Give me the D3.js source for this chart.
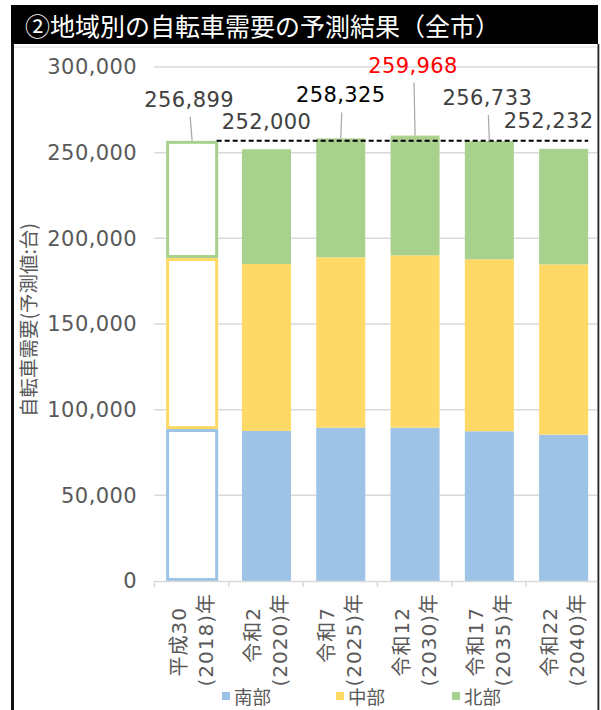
<!DOCTYPE html>
<html lang="ja">
<head>
<meta charset="utf-8">
<script src="https://cdn.jsdelivr.net/npm/d3@7/dist/d3.min.js"></script>
<style>
  html, body { margin: 0; padding: 0; background: #fff; }
  svg { display: block; }
  .num { font-family: "DejaVu Sans", "Noto Sans CJK JP", sans-serif; }
  .jp { font-family: "Noto Sans CJK JP", "DejaVu Sans", sans-serif; }
</style>
</head>
<body>
<svg id="chart" width="601" height="710"></svg>
<script>
// 地域別の自転車需要（全市）の予測値
const eraLabels = ["平成30", "令和2", "令和7", "令和12", "令和17", "令和22"];
const yearLabels = ["(2018)年", "(2020)年", "(2025)年", "(2030)年", "(2035)年", "(2040)年"];
const regionNames = ["南部", "中部", "北部"];
const south   = [88700, 87600, 89500, 89500, 87400, 85400];
const central = [99800, 97400, 99400, 100600, 100400, 99400];
const north   = [68399, 67000, 69425, 69868, 68933, 67432];
const totals  = [256899, 252000, 258325, 259968, 256733, 252232];
const yTicks  = [0, 50000, 100000, 150000, 200000, 250000, 300000];

const colors = ["#9dc3e6", "#ffd966", "#a9d18e"];
// 合計ラベルの配置（棒の上端中央からのずれ）と引き出し線の有無
const labelPlace = [
  { dx: -3, dy: -34, leader: true },
  { dx: 0, dy: -20, leader: false },
  { dx: 0, dy: -36, leader: true },
  { dx: -2, dy: -63, leader: true },
  { dx: -2, dy: -36, leader: true },
  { dx: -15, dy: -21, leader: false }
];
const labelColors = ["#404040", "#404040", "#000000", "#ff0000", "#404040", "#404040"];

const svg = d3.select("#chart");

// 枠とタイトル帯
svg.append("rect").attr("x", 11).attr("y", 5).attr("width", 587).attr("height", 39).attr("fill", "#000");
svg.append("text").attr("class", "jp")
  .attr("x", 25).attr("y", 25).attr("dominant-baseline", "central")
  .attr("fill", "#fff").attr("font-size", 25)
  .text("②地域別の自転車需要の予測結果（全市）");
svg.append("line").attr("x1", 14).attr("x2", 597).attr("y1", 47).attr("y2", 47)
  .attr("stroke", "#d9d9d9").attr("stroke-width", 1);
svg.append("rect").attr("x", 11).attr("y", 44).attr("width", 3).attr("height", 666).attr("fill", "#111");
svg.append("rect").attr("x", 597.5).attr("y", 44).attr("width", 1.8).attr("height", 666).attr("fill", "#222");

const x = d3.scaleBand()
  .domain(eraLabels)
  .range([155, 600.8])
  .paddingInner(0.34)
  .paddingOuter(0.17);
const step = x.step();

const y = d3.scaleLinear().domain([0, 300000]).range([581, 67]);

const plot = svg.append("g");
plot.append("clipPath").attr("id", "clip")
  .append("rect").attr("x", 14).attr("y", 44).attr("width", 583).attr("height", 666);

// 目盛線
const grid = plot.append("g").attr("clip-path", "url(#clip)");
grid.selectAll("line.grid").data(yTicks.filter(d => d > 0)).join("line")
  .attr("class", "grid")
  .attr("x1", 154).attr("x2", 600)
  .attr("y1", d => y(d)).attr("y2", d => y(d))
  .attr("stroke", "#d9d9d9").attr("stroke-width", 1.5);

// 縦軸ラベル
const yAxis = d3.axisLeft(y).tickValues(yTicks).tickSize(0).tickPadding(0)
  .tickFormat(d3.format(","));
const yg = svg.append("g").attr("transform", "translate(137,0)").call(yAxis);
yg.select(".domain").remove();
yg.selectAll("text").attr("class", "num")
  .attr("font-size", 21).attr("fill", "#595959")
  .attr("letter-spacing", 0.4)
  .attr("font-family", "DejaVu Sans");

// 積み上げデータ
const rows = eraLabels.map((c, i) => ({ cat: c, s0: south[i], s1: central[i], s2: north[i] }));
const stack = d3.stack().keys(["s0", "s1", "s2"])(rows);

const barG = plot.append("g");
stack.forEach((layer, k) => {
  barG.selectAll(null).data(layer).join("rect")
    .each(function (d, i) {
      const sel = d3.select(this);
      const bx = x(d.data.cat), bw = x.bandwidth();
      if (i === 0) {
        // 基準年は枠線のみ
        sel.attr("x", bx).attr("width", bw)
          .attr("y", y(d[1]) + 1.5).attr("height", y(d[0]) - y(d[1]) - 3)
          .attr("fill", "#fff").attr("stroke", colors[k]).attr("stroke-width", 3);
      } else {
        sel.attr("x", bx).attr("width", bw)
          .attr("y", y(d[1])).attr("height", y(d[0]) - y(d[1]))
          .attr("fill", colors[k]);
      }
    });
});

// 横軸
const axisG = plot.append("g").attr("clip-path", "url(#clip)");
axisG.append("line").attr("x1", 154).attr("x2", 600).attr("y1", 581.5).attr("y2", 581.5)
  .attr("stroke", "#d9d9d9").attr("stroke-width", 1.5);
axisG.selectAll("line.tick").data(d3.range(eraLabels.length + 1)).join("line")
  .attr("class", "tick")
  .attr("x1", i => 155 + i * step - 0.5).attr("x2", i => 155 + i * step - 0.5)
  .attr("y1", 581).attr("y2", 587)
  .attr("stroke", "#d9d9d9").attr("stroke-width", 1.5);

const xl = svg.append("g");
eraLabels.forEach((c, i) => {
  const cx = x(c) + x.bandwidth() / 2;
  xl.append("text").attr("class", "num")
    .attr("transform", `translate(${cx - 13.5},607) rotate(-90)`)
    .attr("text-anchor", "end").attr("dominant-baseline", "central")
    .attr("font-size", 20).attr("letter-spacing", 1).attr("fill", "#595959")
    .text(c);
  xl.append("text").attr("class", "num")
    .attr("transform", `translate(${cx + 13.5},593) rotate(-90)`)
    .attr("text-anchor", "end").attr("dominant-baseline", "central")
    .attr("font-size", 20).attr("letter-spacing", 1).attr("fill", "#595959")
    .text(yearLabels[i]);
});

// 基準年の水準を示す破線
const x0 = x(eraLabels[0]) + x.bandwidth();
const x1 = x(eraLabels[eraLabels.length - 1]) + x.bandwidth();
svg.append("line")
  .attr("x1", x0).attr("x2", x1)
  .attr("y1", y(totals[0])).attr("y2", y(totals[0]))
  .attr("stroke", "#000").attr("stroke-width", 2)
  .attr("stroke-dasharray", "5,3");

// 合計値ラベル
const fmt = d3.format(",");
totals.forEach((t, i) => {
  const cx = x(eraLabels[i]) + x.bandwidth() / 2;
  const p = labelPlace[i];
  const lx = cx + p.dx, ly = y(t) + p.dy;
  if (p.leader) {
    svg.append("line")
      .attr("x1", cx).attr("y1", y(t))
      .attr("x2", lx + 1).attr("y2", ly + 10)
      .attr("stroke", "#a6a6a6").attr("stroke-width", 1.2);
  }
  svg.append("text").attr("class", "num")
    .attr("x", lx).attr("y", ly)
    .attr("text-anchor", "middle")
    .attr("font-size", 21).attr("letter-spacing", 0.4)
    .attr("fill", labelColors[i])
    .text(fmt(t));
});

// 縦軸タイトル
svg.append("text").attr("class", "jp")
  .attr("transform", "translate(27,320) rotate(-90)")
  .attr("text-anchor", "middle").attr("dominant-baseline", "central")
  .attr("font-size", 19.5).attr("fill", "#595959")
  .text("自転車需要(予測値:台)");

// 凡例
const legendX = [222, 336, 452];
const lg = svg.append("g");
regionNames.forEach((n, k) => {
  lg.append("rect").attr("x", legendX[k]).attr("y", 692).attr("width", 8).attr("height", 8)
    .attr("fill", colors[k]);
  lg.append("text").attr("class", "jp")
    .attr("x", legendX[k] + 12).attr("y", 696).attr("dominant-baseline", "central")
    .attr("font-size", 18.5).attr("fill", "#595959")
    .text(n);
});
</script>
</body>
</html>
